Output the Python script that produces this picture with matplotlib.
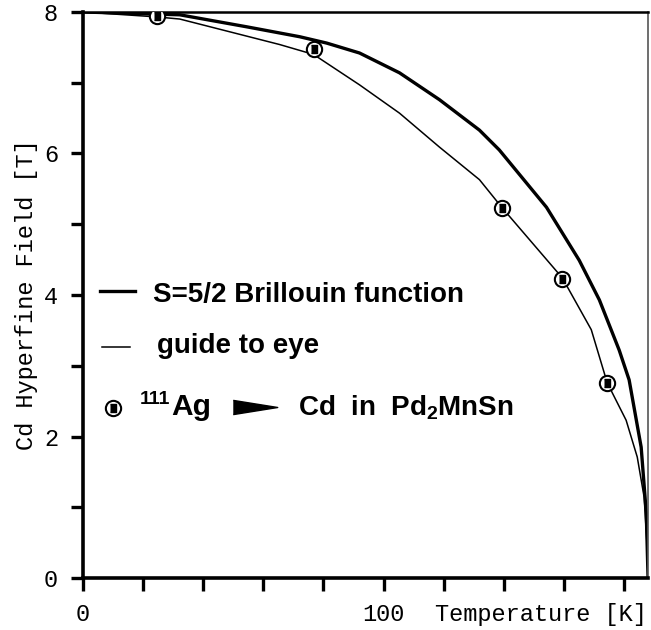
import numpy as np
import matplotlib
matplotlib.use("Agg")
import matplotlib.pyplot as plt
from matplotlib.ticker import FixedLocator

plt.rcParams["mathtext.fontset"] = "custom"
plt.rcParams["mathtext.rm"] = "Liberation Sans:bold"
plt.rcParams["mathtext.it"] = "Liberation Sans:bold"
plt.rcParams["mathtext.bf"] = "Liberation Sans:bold"

# --- dados ---
T_pts = [24.6, 76.7, 139.5, 159.5, 174.4]
B_pts = [7.94, 7.48, 5.23, 4.23, 2.76]

T_brill = [0, 32.2, 54.5, 72.1, 81.1, 92.0, 105.3, 118.6, 131.9, 138.5, 154.2,
           165.1, 171.8, 178.4, 181.7, 185.7, 187.4, 188.0]
B_brill = [8.0, 7.96, 7.79, 7.65, 7.56, 7.42, 7.14, 6.76, 6.33, 6.05, 5.24,
           4.49, 3.93, 3.22, 2.80, 1.85, 0.92, 0.0]

T_guia = [0, 24.6, 32.2, 48.8, 65.4, 76.7, 92.0, 105.3, 118.6, 131.9, 139.5,
          159.5, 169.1, 174.4, 180.7, 184.4, 186.7, 187.7, 188.0]
B_guia = [8.0, 7.93, 7.90, 7.72, 7.54, 7.40, 6.97, 6.57, 6.09, 5.63, 5.23,
          4.24, 3.51, 2.76, 2.23, 1.71, 1.14, 0.44, 0.0]

x_ticks = [0, 20, 40, 60, 80, 100, 120, 140, 160, 180]
x_tick_labels = ["0", "", "", "", "", "100", "", "", "", ""]
y_ticks = [0, 1, 2, 3, 4, 5, 6, 7, 8]
y_tick_labels = ["0", "", "2", "", "4", "", "6", "", "8"]

MONO = "Liberation Mono"
SANS = ["Liberation Sans", "DejaVu Sans"]
FS_MONO = 17
FS_LEG = 20

fig = plt.figure(figsize=(6.51, 6.30), dpi=100)
ax = fig.add_axes([0.1275, 0.0825, 0.868, 0.8985])

ax.plot(T_brill, B_brill, "-", color="black", lw=2.4, solid_capstyle="butt")
ax.plot(T_guia, B_guia, "-", color="black", lw=1.1)
ax.plot(T_pts, B_pts, "o", ms=11, mfc="white", mec="black", mew=1.5, zorder=5)
caixa = [(-0.7, -1), (0.7, -1), (0.7, 1), (-0.7, 1)]
ax.plot(T_pts, B_pts, ls="none", marker=caixa, ms=6, color="black", zorder=6)

ax.set_xlim(0, 188)
ax.set_ylim(0, 8)
ax.xaxis.set_major_locator(FixedLocator(x_ticks))
ax.set_xticklabels(x_tick_labels)
ax.yaxis.set_major_locator(FixedLocator(y_ticks))
ax.set_yticklabels(y_tick_labels)
ax.tick_params(direction="out", length=9, width=2.4, pad=9, labelsize=FS_MONO)
for lab in ax.get_xticklabels() + ax.get_yticklabels():
    lab.set_fontfamily(MONO)

ax.spines["left"].set_linewidth(2.6)
ax.spines["bottom"].set_linewidth(2.6)
ax.spines["top"].set_linewidth(1.8)
ax.spines["right"].set_linewidth(1.2)
ax.spines["right"].set_color("#555555")

ax.set_ylabel("Cd Hyperfine Field [T]", family=MONO, fontsize=FS_MONO, labelpad=4)
ax.text(0.623, -0.064, "Temperature [K]", transform=ax.transAxes,
        family=MONO, fontsize=FS_MONO, va="center", ha="left")

# legenda manual
ax.plot([0.030, 0.092], [0.507, 0.507], transform=ax.transAxes, color="black", lw=2.4)
ax.plot([0.034, 0.083], [0.408, 0.408], transform=ax.transAxes, color="black", lw=1.1)
ax.plot([0.053], [0.300], "o", transform=ax.transAxes, ms=11, mfc="white",
        mec="black", mew=1.5)
ax.plot([0.053], [0.300], ls="none", marker=caixa, transform=ax.transAxes,
        ms=6, color="black")
ax.text(0.124, 0.488, "S=5/2 Brillouin function", transform=ax.transAxes,
        family=SANS, fontweight="bold", fontsize=FS_LEG, va="baseline")
ax.text(0.131, 0.398, "guide to eye", transform=ax.transAxes,
        family=SANS, fontweight="bold", fontsize=FS_LEG, va="baseline")
ax.text(0.100, 0.307, "111", transform=ax.transAxes,
        family=SANS, fontweight="bold", fontsize=14, va="baseline")
ax.text(0.157, 0.288, "Ag", transform=ax.transAxes,
        family=SANS, fontweight="bold", fontsize=21.5, va="baseline")
seta = [(-1, -0.32), (1, 0), (-1, 0.32)]
ax.plot([0.3035], [0.302], ls="none", marker=seta, ms=32, color="black",
        transform=ax.transAxes)
ax.text(0.381, 0.288, r"Cd  in  Pd$_2$MnSn", transform=ax.transAxes,
        family=SANS, fontweight="bold", fontsize=FS_LEG, va="baseline")

fig.savefig("out.png", dpi=100)
